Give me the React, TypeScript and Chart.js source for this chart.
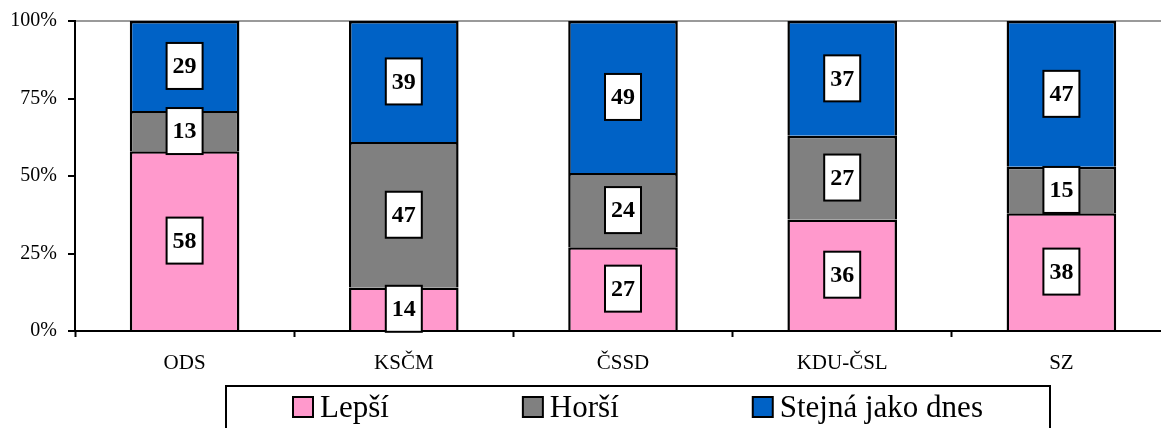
import { useEffect, useRef } from "react";
import { Chart, registerables } from "chart.js";

Chart.register(...registerables);

const categories = ["ODS", "KSČM", "ČSSD", "KDU-ČSL", "SZ"];
const seriesNames = ["Lepší", "Horší", "Stejná jako dnes"];
const lepsi = [58, 14, 27, 36, 38];
const horsi = [13, 47, 24, 27, 15];
const stejna = [29, 39, 49, 37, 47];
const yTicks = [0, 25, 50, 75, 100];
const seriesColors = ["#FF99CC", "#808080", "#0062C6"];

const FONT = '"Liberation Serif", "Times New Roman", serif';

const valueBoxPlugin = {
  id: "valueBoxes",
  afterDatasetsDraw(chart: any) {
    const ctx = chart.ctx;
    ctx.save();
    chart.data.datasets.forEach((ds: any, di: number) => {
      const meta = chart.getDatasetMeta(di);
      meta.data.forEach((el: any, i: number) => {
        const v = ds.data[i];
        const cx = el.x;
        const cy = (el.y + el.base) / 2;
        const w = 36, h = 46;
        ctx.fillStyle = "#fff";
        ctx.fillRect(cx - w / 2, cy - h / 2, w, h);
        ctx.lineWidth = 2;
        ctx.strokeStyle = "#000";
        ctx.strokeRect(cx - w / 2, cy - h / 2, w, h);
        ctx.fillStyle = "#000";
        ctx.font = "bold 24px " + FONT;
        ctx.textAlign = "center";
        ctx.textBaseline = "middle";
        ctx.fillText(String(v), cx, cy + 1);
      });
    });
    ctx.restore();
  },
};

const boxLegendPlugin = {
  id: "boxLegend",
  afterDraw(chart: any) {
    const ctx = chart.ctx;
    const area = chart.chartArea;
    const boxL = area.left + 151;
    const boxR = area.left + 975;
    const boxT = area.bottom + 55;
    ctx.save();
    ctx.lineWidth = 2;
    ctx.strokeStyle = "#000";
    ctx.strokeRect(boxL, boxT, boxR - boxL, chart.height - boxT + 10);
    ctx.font = "31px " + FONT;
    ctx.textBaseline = "alphabetic";
    ctx.textAlign = "left";
    const sq = 20;
    const gapText = 7;
    const gapItem = 134;
    let x = boxL + 67;
    const cy = boxT + 21;
    chart.data.datasets.forEach((ds: any) => {
      ctx.fillStyle = ds.backgroundColor;
      ctx.fillRect(x, cy - sq / 2, sq, sq);
      ctx.lineWidth = 2;
      ctx.strokeStyle = "#000";
      ctx.strokeRect(x, cy - sq / 2, sq, sq);
      ctx.fillStyle = "#000";
      ctx.fillText(ds.label, x + sq + gapText, cy + 10);
      const w = ctx.measureText(ds.label).width;
      x += sq + gapText + w + gapItem;
    });
    ctx.restore();
  },
};

export default function App() {
  const ref = useRef<HTMLCanvasElement | null>(null);

  useEffect(() => {
    if (!ref.current) return;
    const values = [lepsi, horsi, stejna];
    const chart = new Chart(ref.current, {
      type: "bar",
      data: {
        labels: categories,
        datasets: seriesNames.map((name, i) => ({
          label: name,
          data: values[i],
          backgroundColor: seriesColors[i],
          borderColor: "#000",
          borderWidth: 2.5,
          barPercentage: 0.5,
          categoryPercentage: 1.0,
        })),
      },
      options: {
        responsive: false,
        animation: false,
        layout: { padding: { top: 18, left: 0, right: 0, bottom: 0 } },
        plugins: {
          legend: { display: false },
          tooltip: { enabled: false },
        },
        scales: {
          x: {
            stacked: true,
            afterFit: (scale: any) => {
              scale.height = 97;
            },
            grid: {
              offset: true,
              drawOnChartArea: false,
              drawTicks: true,
              tickLength: 6,
              tickColor: "#000",
              tickWidth: 2,
            },
            border: { color: "#000", width: 2 },
            ticks: {
              color: "#000",
              font: { family: FONT, size: 21 },
              padding: 14,
              maxRotation: 0,
            },
          },
          y: {
            stacked: true,
            min: 0,
            max: 100,
            afterFit: (scale: any) => {
              scale.width = 75;
            },
            afterBuildTicks: (scale: any) => {
              scale.ticks = yTicks.map((v) => ({ value: v }));
            },
            grid: {
              color: (c: any) => (c.tick && c.tick.value === 100 ? "#9a9a9a" : "rgba(0,0,0,0)"),
              lineWidth: 2,
              tickLength: 7,
              tickColor: "#000",
              tickWidth: 2,
            },
            border: { color: "#000", width: 2 },
            ticks: {
              color: "#000",
              font: { family: FONT, size: 20 },
              padding: 11,
              callback: (v: any) => v + "%",
            },
          },
        },
      },
      plugins: [valueBoxPlugin, boxLegendPlugin],
    });
    return () => chart.destroy();
  }, []);

  return (
    <div
      style={{
        position: "fixed",
        left: 0,
        top: 0,
        width: 1161,
        height: 428,
        overflow: "hidden",
        background: "#fff",
      }}
    >
      <canvas
        ref={ref}
        width={1171}
        height={430}
        style={{ display: "block", marginTop: -2 }}
      />
    </div>
  );
}
